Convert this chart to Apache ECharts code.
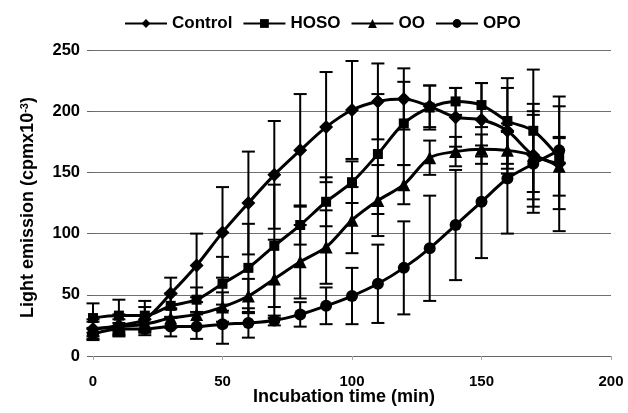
<!DOCTYPE html>
<html>
<head>
<meta charset="utf-8">
<script src="https://cdn.jsdelivr.net/npm/echarts@6/dist/echarts.min.js"></script>
<style>
    html, body { margin: 0; padding: 0; background: #fff; }
    #chart { width: 628px; height: 413px; }
</style>
</head>
<body>
<div id="chart"></div>
<script>
    // incubation time (min)
    var times = [0, 10, 20, 30, 40, 50, 60, 70, 80, 90, 100, 110, 120, 130, 140, 150, 160, 170, 180];

    var control = [22, 25, 30, 51, 74, 101, 125, 148, 168, 187, 201, 208, 210, 204, 195, 193, 184, 164, 157];
    var hoso    = [31, 33, 33, 41, 46, 59, 72, 90, 107, 126, 142, 165, 190, 203, 208, 205, 192, 184, 162];
    var oo      = [22, 24, 26, 31, 34, 40, 49, 63, 77, 89, 111, 127, 140, 162, 167, 169, 168, 164, 155];
    var opo     = [18, 22, 22, 24, 24, 26, 27, 29, 34, 41, 49, 59, 72, 88, 107, 126, 145, 157, 168];

    // error bar half widths
    var controlErr = [8, 9, 10, 13, 26, 37, 42, 44, 46, 45, 40, 31, 25, 17, 24, 30, 35, 42, 55];
    var hosoErr    = [12, 13, 12, 10, 10, 22, 36, 50, 16, 20, 17, 49, 34, 18, 11, 18, 35, 50, 42];
    var ooErr      = [6, 6, 7, 8, 10, 12, 14, 32, 30, 30, 27, 29, 16, 14, 12, 12, 15, 36, 24];
    var opoErr     = [5, 5, 5, 8, 10, 16, 12, 4, 10, 15, 23, 32, 38, 43, 45, 46, 45, 40, 10];

    var names = ['Control', 'HOSO', 'OO', 'OPO'];
    var symbols = ['diamond', 'rect', 'triangle', 'circle'];
    var symbolSizes = [14, 10, 13, 12];
    var values = [control, hoso, oo, opo];
    var errors = [controlErr, hosoErr, ooErr, opoErr];

    var font = 'Liberation Sans, Arial, sans-serif';

    function pairs(ys) {
        return times.map(function (t, i) { return [t, ys[i]]; });
    }

    function errData(ys, es) {
        return times.map(function (t, i) { return [t, ys[i] - es[i], ys[i] + es[i]]; });
    }

    function renderErr(params, api) {
        var lo = api.coord([api.value(0), api.value(1)]);
        var hi = api.coord([api.value(0), api.value(2)]);
        var w = 6.5;
        var st = { stroke: '#000', lineWidth: 2 };
        return {
            type: 'group',
            children: [
                { type: 'line', shape: { x1: lo[0], y1: lo[1], x2: hi[0], y2: hi[1] }, style: st },
                { type: 'line', shape: { x1: lo[0] - w, y1: lo[1], x2: lo[0] + w, y2: lo[1] }, style: st },
                { type: 'line', shape: { x1: hi[0] - w, y1: hi[1], x2: hi[0] + w, y2: hi[1] }, style: st }
            ]
        };
    }

    var series = [];
    names.forEach(function (n, k) {
        series.push({
            name: n + ' err',
            type: 'custom',
            renderItem: renderErr,
            data: errData(values[k], errors[k]),
            z: 1,
            silent: true
        });
    });
    names.forEach(function (n, k) {
        series.push({
            name: n,
            type: 'line',
            data: pairs(values[k]),
            symbol: symbols[k],
            symbolSize: symbolSizes[k],
            smooth: 0.3,
            itemStyle: { color: '#000' },
            lineStyle: { color: '#000', width: 3 },
            z: 3
        });
    });

    var option = {
        animation: false,
        backgroundColor: '#fff',
        legend: {
            data: names,
            left: 119,
            top: 10,
            itemWidth: 42,
            itemHeight: 11,
            itemGap: 10,
            textStyle: { fontFamily: font, fontSize: 17, fontWeight: 'bold', color: '#000' }
        },
        grid: { left: 93, right: 17, top: 50, bottom: 57, outerBoundsMode: 'none', containLabel: false },
        xAxis: {
            type: 'value',
            min: 0,
            max: 200,
            interval: 50,
            name: 'Incubation time (min)',
            nameLocation: 'middle',
            nameGap: 32,
            nameMoveOverlap: false,
            nameTextStyle: { fontFamily: font, fontSize: 18, fontWeight: 'bold', color: '#000', padding: [0, 16, 0, 0] },
            axisLine: { lineStyle: { color: '#666', width: 1 } },
            axisTick: { lineStyle: { color: '#aaa' }, length: 4 },
            axisLabel: { fontFamily: font, fontSize: 15, fontWeight: 'bold', color: '#000', margin: 18 },
            splitLine: { show: false }
        },
        yAxis: {
            type: 'value',
            min: 0,
            max: 250,
            interval: 50,
            name: 'Light emission (cpmx10{sup|-3})',
            nameLocation: 'middle',
            nameGap: 56,
            nameMoveOverlap: false,
            nameTextStyle: {
                fontFamily: font, fontSize: 18, fontWeight: 'bold', color: '#000', padding: [0, 9, 0, 0],
                rich: {
                    sup: { fontFamily: font, fontSize: 11, fontWeight: 'bold', color: '#000', verticalAlign: 'top', padding: [0, 0, 7, 0] }
                }
            },
            axisLine: { show: false },
            axisTick: { show: true, length: 6, lineStyle: { color: '#666' } },
            axisLabel: { fontFamily: font, fontSize: 16.5, fontWeight: 'bold', color: '#000', margin: 13 },
            splitLine: { lineStyle: { color: '#707070', width: 1 } }
        },
        series: series
    };

    var chart = echarts.init(document.getElementById('chart'));
    chart.setOption(option);
</script>
</body>
</html>
